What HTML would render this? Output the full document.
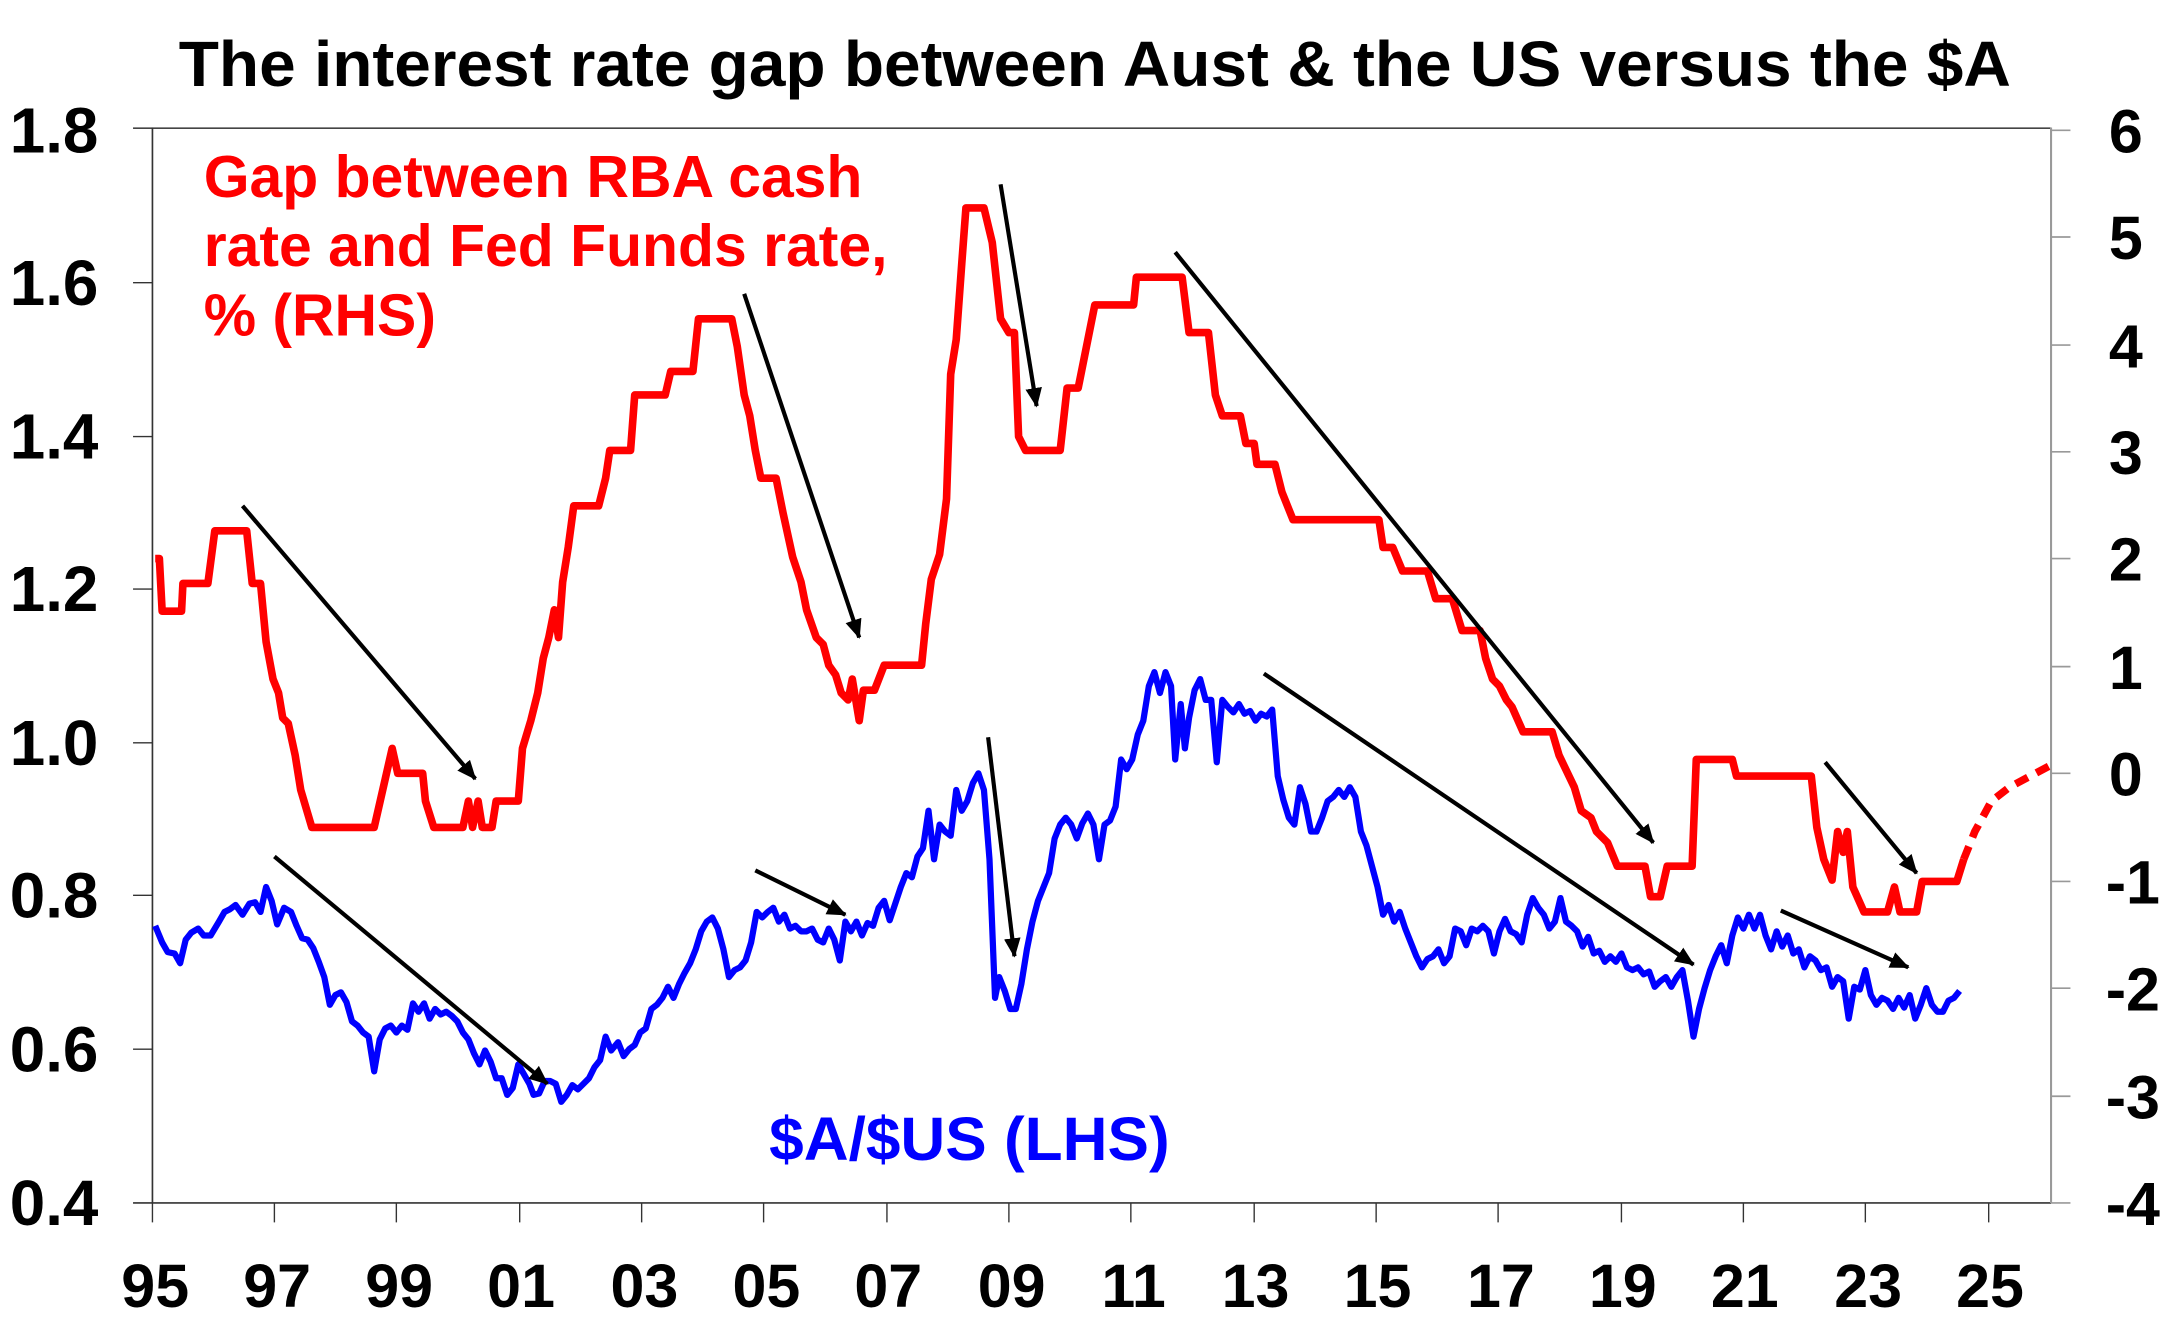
<!DOCTYPE html>
<html><head><meta charset="utf-8"><style>
html,body{margin:0;padding:0;background:#fff;}
svg{display:block;}
text{font-family:"Liberation Sans",Arial,sans-serif;font-weight:bold;}
</style></head><body>
<svg width="2173" height="1323" viewBox="0 0 1568 954.6" preserveAspectRatio="none" xmlns="http://www.w3.org/2000/svg">
<rect width="1568" height="954.6" fill="#fff"/>
<text x="790" y="62" font-size="46" text-anchor="middle" textLength="1322" lengthAdjust="spacingAndGlyphs">The interest rate gap between Aust &amp; the US versus the $A</text>
<line x1="96" y1="92.5" x2="1480" y2="92.5" stroke="#444" stroke-width="1.2"/>
<line x1="110" y1="92" x2="110" y2="868" stroke="#333" stroke-width="1.2"/>
<line x1="96" y1="868" x2="1480" y2="868" stroke="#333" stroke-width="1.2"/>
<line x1="1480" y1="92" x2="1480" y2="868" stroke="#999" stroke-width="1.5"/>
<g stroke="#333" stroke-width="1">
<line x1="96" y1="204" x2="110" y2="204"/><line x1="96" y1="315" x2="110" y2="315"/><line x1="96" y1="425" x2="110" y2="425"/><line x1="96" y1="536" x2="110" y2="536"/><line x1="96" y1="646" x2="110" y2="646"/><line x1="96" y1="757" x2="110" y2="757"/>
<line x1="110" y1="868" x2="110" y2="882"/><line x1="198" y1="868" x2="198" y2="882"/><line x1="286" y1="868" x2="286" y2="882"/><line x1="375" y1="868" x2="375" y2="882"/><line x1="463" y1="868" x2="463" y2="882"/><line x1="551" y1="868" x2="551" y2="882"/><line x1="640" y1="868" x2="640" y2="882"/><line x1="728" y1="868" x2="728" y2="882"/><line x1="816" y1="868" x2="816" y2="882"/><line x1="905" y1="868" x2="905" y2="882"/><line x1="993" y1="868" x2="993" y2="882"/><line x1="1081" y1="868" x2="1081" y2="882"/><line x1="1170" y1="868" x2="1170" y2="882"/><line x1="1258" y1="868" x2="1258" y2="882"/><line x1="1346" y1="868" x2="1346" y2="882"/><line x1="1435" y1="868" x2="1435" y2="882"/>
</g>
<g stroke="#999" stroke-width="1.2">
<line x1="1480" y1="94" x2="1494" y2="94"/><line x1="1480" y1="171" x2="1494" y2="171"/><line x1="1480" y1="249" x2="1494" y2="249"/><line x1="1480" y1="326" x2="1494" y2="326"/><line x1="1480" y1="403" x2="1494" y2="403"/><line x1="1480" y1="481" x2="1494" y2="481"/><line x1="1480" y1="558" x2="1494" y2="558"/><line x1="1480" y1="636" x2="1494" y2="636"/><line x1="1480" y1="713" x2="1494" y2="713"/><line x1="1480" y1="791" x2="1494" y2="791"/><line x1="1480" y1="868" x2="1494" y2="868"/>
</g>
<g font-size="46" text-anchor="end">
<text x="71" y="110">1.8</text><text x="71" y="220">1.6</text><text x="71" y="331">1.4</text><text x="71" y="441">1.2</text><text x="71" y="552">1.0</text><text x="71" y="662">0.8</text><text x="71" y="773">0.6</text><text x="71" y="884">0.4</text>
</g>
<g font-size="44" text-anchor="middle">
<text x="1534" y="110">6</text><text x="1534" y="187">5</text><text x="1534" y="265">4</text><text x="1534" y="342">3</text><text x="1534" y="419">2</text><text x="1534" y="497">1</text><text x="1534" y="574">0</text><text x="1539" y="652">-1</text><text x="1539" y="729">-2</text><text x="1539" y="807">-3</text><text x="1539" y="884">-4</text>
</g>
<g font-size="44" text-anchor="middle">
<text x="112" y="943">95</text><text x="200" y="943">97</text><text x="288" y="943">99</text><text x="376" y="943">01</text><text x="465" y="943">03</text><text x="553" y="943">05</text><text x="641" y="943">07</text><text x="730" y="943">09</text><text x="818" y="943">11</text><text x="906" y="943">13</text><text x="994" y="943">15</text><text x="1083" y="943">17</text><text x="1171" y="943">19</text><text x="1259" y="943">21</text><text x="1348" y="943">23</text><text x="1436" y="943">25</text>
</g>
<polyline fill="none" stroke="#f00" stroke-width="5.5" stroke-linejoin="round" points="112,403 115,403 117,441 131,441 132,421 150,421 155,383 178,383 182,421 188,421 192,463 197,490 201,500 204,518 208,522 213,545 217,570 225,597 270,597 283,540 287,558 305,558 307,578 313,597 334,597 338,578 341,597 345,578 348,597 355,597 358,578 374,578 377,540 383,520 388,500 392,475 396,460 400,440 403,460 406,420 410,395 414,365 432,365 437,345 440,325 455,325 458,285 480,285 484,268 500,268 504,230 528,230 532,250 537,285 541,300 545,325 549,345 560,345 565,370 572,402 578,420 582,440 589,460 594,465 598,480 603,487 607,500 612,505 615,490 620,520 623,498 631,498 638,480 665,480 668,450 672,418 678,400 683,360 686,270 690,245 694,190 697,150 710,150 716,175 722,230 728,240 732,240 735,315 740,325 765,325 770,280 778,280 790,220 818,220 820,200 853,200 858,240 872,240 877,285 882,300 895,300 899,320 905,320 907,335 920,335 925,355 933,375 995,375 998,395 1005,395 1012,412 1030,412 1036,432 1048,432 1055,455 1068,455 1072,475 1077,490 1082,495 1087,505 1091,510 1099,528 1120,528 1125,545 1136,568 1141,585 1148,590 1152,600 1160,608 1167,625 1187,625 1191,647 1198,647 1203,625 1221,625 1224,548 1250,548 1253,560 1307,560 1311,597 1316,620 1322,635 1326,600 1330,615 1333,600 1337,640 1345,658 1362,658 1367,640 1371,658 1383,658 1387,636 1412,636 1417,620"/>
<polyline fill="none" stroke="#f00" stroke-width="5.5" stroke-dasharray="10,7" points="1417,620 1425,600 1437,578 1450,568 1465,560 1480,552"/>
<polyline fill="none" stroke="#00f" stroke-width="4.5" stroke-linejoin="round" points="112,668 117,680 121,687 126,688 130,695 134,678 138,673 143,670 147,675 152,675 158,665 162,658 166,656 170,653 175,660 180,652 184,651 188,658 192,640 196,650 200,667 205,655 210,658 214,668 218,677 222,678 226,684 230,694 234,705 238,725 242,718 246,716 250,723 254,737 258,740 262,745 266,748 270,773 274,750 278,742 282,740 286,745 290,740 294,743 298,724 302,730 306,724 310,735 314,728 318,732 322,730 326,733 330,737 334,745 338,750 342,760 346,768 350,758 354,766 358,778 362,778 366,790 370,785 374,768 378,775 382,782 385,790 389,789 393,780 397,780 401,782 405,795 409,790 413,783 417,786 421,782 425,778 429,770 433,765 437,748 441,758 446,752 450,762 454,757 458,754 462,745 466,742 470,728 474,725 478,720 482,712 486,720 490,710 494,702 498,695 502,685 506,672 510,665 514,662 518,670 522,685 526,705 530,700 534,698 538,693 542,680 546,658 550,662 554,658 558,655 562,665 566,660 570,670 574,668 578,672 582,672 586,670 590,678 594,680 598,670 602,678 606,693 610,665 614,672 618,665 622,675 626,666 630,668 634,655 638,650 642,664 646,652 650,640 654,630 658,633 662,618 666,612 670,585 674,620 678,595 682,600 686,603 690,570 694,585 698,578 702,565 706,558 710,570 714,620 718,720 721,705 725,715 729,728 733,728 737,710 741,685 745,665 749,650 753,640 757,630 761,605 765,595 769,590 773,595 777,605 781,594 785,587 789,595 793,620 797,595 801,592 805,582 809,548 813,555 817,548 821,530 825,520 829,495 833,485 837,500 841,485 845,495 848,548 852,508 855,540 858,518 862,498 866,490 870,505 874,505 878,550 882,505 886,510 890,514 894,508 898,515 902,513 906,520 910,515 914,517 918,512 922,560 926,577 930,590 934,595 938,568 942,580 946,600 950,600 954,590 958,578 962,575 966,570 970,575 974,568 978,575 982,600 986,610 990,625 994,640 998,660 1002,653 1006,665 1010,658 1014,670 1018,680 1022,690 1026,698 1030,692 1034,690 1038,685 1042,695 1046,690 1050,670 1054,672 1058,682 1062,670 1066,672 1070,668 1074,672 1078,688 1082,672 1086,663 1090,672 1094,674 1098,680 1102,660 1106,648 1110,655 1114,660 1118,670 1122,665 1126,648 1130,665 1134,668 1138,672 1142,683 1146,676 1150,688 1154,686 1158,694 1162,690 1166,694 1170,688 1174,698 1178,700 1182,698 1186,703 1190,701 1194,712 1198,708 1202,705 1206,712 1210,705 1214,700 1218,722 1222,748 1226,728 1230,713 1234,700 1238,690 1242,682 1246,695 1250,675 1254,662 1258,670 1262,660 1266,670 1270,660 1274,675 1278,685 1282,672 1286,683 1290,675 1294,688 1298,685 1302,698 1306,690 1310,693 1314,700 1318,698 1322,712 1326,705 1330,708 1334,735 1338,712 1342,714 1346,700 1350,718 1354,725 1358,720 1362,722 1366,728 1370,720 1374,727 1378,718 1382,735 1386,725 1390,713 1394,725 1398,730 1402,730 1406,722 1410,720 1414,715"/>
<defs><marker id="a2" markerWidth="14" markerHeight="12" refX="13" refY="6" orient="auto" markerUnits="userSpaceOnUse"><path d="M0,0 L14,6 L0,12 Z" fill="#000"/></marker></defs>
<g stroke="#000" stroke-width="3" marker-end="url(#a2)">
<line x1="175" y1="365" x2="343" y2="562"/>
<line x1="537" y1="212" x2="620" y2="460"/>
<line x1="722" y1="133" x2="748" y2="293"/>
<line x1="848" y1="182" x2="1193" y2="608"/>
<line x1="1317" y1="550" x2="1383" y2="630"/>
<line x1="198" y1="618" x2="395" y2="782"/>
<line x1="545" y1="628" x2="610" y2="660"/>
<line x1="713" y1="532" x2="732" y2="690"/>
<line x1="912" y1="486" x2="1222" y2="696"/>
<line x1="1285" y1="657" x2="1377" y2="698"/>
</g>
<g fill="#f00" font-size="42.5">
<text x="147" y="142">Gap between RBA cash</text>
<text x="147" y="192">rate and Fed Funds rate,</text>
<text x="147" y="242">% (RHS)</text>
</g>
<text x="555" y="837" fill="#00f" font-size="44" textLength="289" lengthAdjust="spacingAndGlyphs">$A/$US (LHS)</text>
</svg>
</body></html>
